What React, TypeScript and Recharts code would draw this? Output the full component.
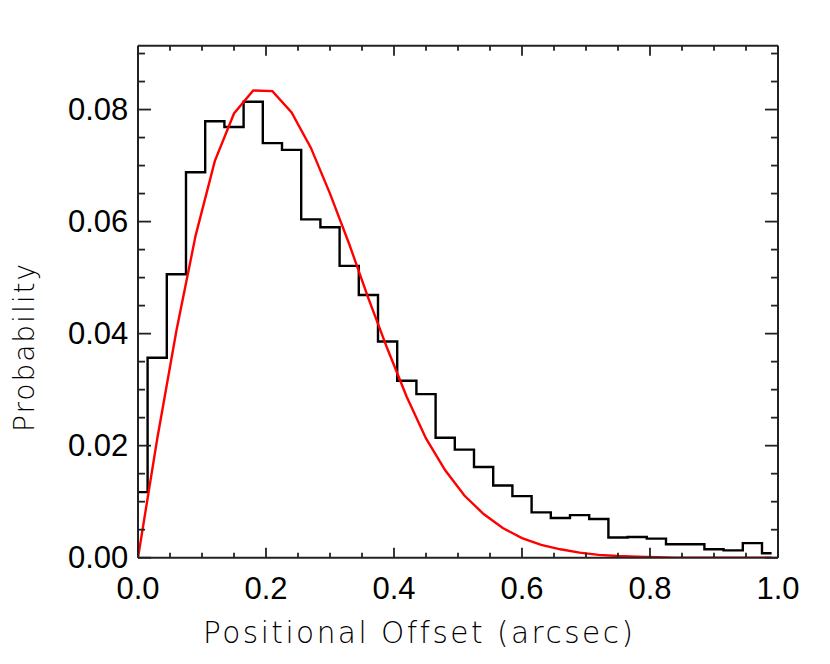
import React from "react";
import { ComposedChart, Line, XAxis, YAxis, Label } from "recharts";

// Bin centres (arcsec)
const offsets = [
  0.0, 0.03, 0.06, 0.09, 0.12, 0.15, 0.18, 0.21, 0.24, 0.27, 0.3, 0.33,
  0.36, 0.39, 0.42, 0.45, 0.48, 0.51, 0.54, 0.57, 0.6, 0.63, 0.66, 0.69,
  0.72, 0.75, 0.78, 0.81, 0.84, 0.87, 0.9, 0.93, 0.96, 0.99,
];

// Observed histogram (black)
const histProb = [
  0.0117, 0.0357, 0.0506, 0.0688, 0.0779, 0.0769, 0.0814, 0.0740, 0.0728,
  0.0604, 0.0590, 0.0521, 0.0469, 0.0386, 0.0316, 0.0292, 0.0214, 0.0193,
  0.0162, 0.0129, 0.0110, 0.0081, 0.0071, 0.0076, 0.0069, 0.0036, 0.0037,
  0.0034, 0.0024, 0.0024, 0.0015, 0.0013, 0.0026, 0.0008,
];

// Model curve (red)
const fitProb = [
  0.0, 0.0212, 0.0405, 0.0575, 0.0708, 0.0793, 0.0834, 0.0833, 0.0795,
  0.0732, 0.0650, 0.0560, 0.0463, 0.0372, 0.0287, 0.0213, 0.0156, 0.0111,
  0.0078, 0.0053, 0.0035, 0.0023, 0.0015, 0.0009, 0.0005, 0.0003, 0.0002,
  0.0001, 0.0, 0.0, 0.0, 0.0, 0.0, 0.0,
];

const xTicks = [
  0, 0.05, 0.1, 0.15, 0.2, 0.25, 0.3, 0.35, 0.4, 0.45, 0.5, 0.55, 0.6, 0.65,
  0.7, 0.75, 0.8, 0.85, 0.9, 0.95, 1.0,
];
const yTicks = [
  0, 0.005, 0.01, 0.015, 0.02, 0.025, 0.03, 0.035, 0.04, 0.045, 0.05, 0.055,
  0.06, 0.065, 0.07, 0.075, 0.08, 0.085, 0.09,
];

const xTitle = "Positional Offset (arcsec)";
const yTitle = "Probability";

const data = offsets.map((x, i) => ({ x, hist: histProb[i], fit: fitProb[i] }));

const AXIS = "#222";
const TICK_FONT = "'Liberation Sans', Arial, Helvetica, sans-serif";
const TITLE_FONT = "'DejaVu Sans', 'Liberation Sans', sans-serif";

const isMajorX = (v: number) => Math.round(v * 100) % 20 === 0;
const isMajorY = (v: number) => Math.round(v * 1000) % 20 === 0;

const BottomTick = (props: any) => {
  const { x, y, payload } = props;
  const v = payload.value as number;
  const major = isMajorX(v);
  return (
    <g>
      <line x1={x} x2={x} y1={y} y2={y - (major ? 10 : 5)} stroke={AXIS} strokeWidth={1.8} />
      {major && (
        <text x={x} y={y + 41.6} textAnchor="middle" fontFamily={TICK_FONT} fontSize={31} fill="#000">
          {v.toFixed(1)}
        </text>
      )}
    </g>
  );
};

const TopTick = (props: any) => {
  const { x, y, payload } = props;
  const major = isMajorX(payload.value);
  return <line x1={x} x2={x} y1={y} y2={y + (major ? 10 : 5)} stroke={AXIS} strokeWidth={1.8} />;
};

const LeftTick = (props: any) => {
  const { x, y, payload } = props;
  const v = payload.value as number;
  const major = isMajorY(v);
  return (
    <g>
      <line x1={x} x2={x + (major ? 13 : 7)} y1={y} y2={y} stroke={AXIS} strokeWidth={1.8} />
      {major && (
        <text x={x - 9.7} y={y + 10.5} textAnchor="end" fontFamily={TICK_FONT} fontSize={31} fill="#000">
          {v.toFixed(2)}
        </text>
      )}
    </g>
  );
};

const RightTick = (props: any) => {
  const { x, y, payload } = props;
  const major = isMajorY(payload.value);
  return <line x1={x} x2={x - (major ? 13 : 7)} y1={y} y2={y} stroke={AXIS} strokeWidth={1.8} />;
};

export default function App() {
  return (
    <ComposedChart
      width={814}
      height={648}
      data={data}
      margin={{ top: 36.7, right: 43, bottom: 38.3, left: 0 }}
    >
      <XAxis
        xAxisId="bottom"
        dataKey="x"
        type="number"
        domain={[0, 1]}
        allowDataOverflow
        ticks={xTicks}
        interval={0}
        tickSize={0}
        tickMargin={0}
        tickLine={false}
        height={60}
        axisLine={{ stroke: AXIS, strokeWidth: 2 }}
        tick={<BottomTick />}
      >
        <Label
          content={() => (
            <text
              x={195}
              y={635}
              fontFamily={TITLE_FONT}
              fontWeight={300}
              fontSize={29.5}
              letterSpacing={2.5}
              fill="#000"
            >
              {xTitle}
            </text>
          )}
        />
      </XAxis>
      <XAxis
        xAxisId="top"
        orientation="top"
        dataKey="x"
        type="number"
        domain={[0, 1]}
        allowDataOverflow
        ticks={xTicks}
        interval={0}
        tickSize={0}
        tickMargin={0}
        tickLine={false}
        height={1}
        axisLine={{ stroke: AXIS, strokeWidth: 2 }}
        tick={<TopTick />}
      />
      <YAxis
        yAxisId="left"
        type="number"
        domain={[0, 0.0914]}
        allowDataOverflow
        ticks={yTicks}
        interval={0}
        tickSize={0}
        tickMargin={0}
        tickLine={false}
        width={130}
        axisLine={{ stroke: AXIS, strokeWidth: 2 }}
        tick={<LeftTick />}
      >
        <Label
          content={() => (
            <text
              x={25.5}
              y={424}
              transform="rotate(-90 25.5 424)"
              fontFamily={TITLE_FONT}
              fontWeight={300}
              fontSize={28}
              letterSpacing={2}
              fill="#000"
            >
              {yTitle}
            </text>
          )}
        />
      </YAxis>
      <YAxis
        yAxisId="right"
        orientation="right"
        type="number"
        domain={[0, 0.0914]}
        allowDataOverflow
        ticks={yTicks}
        interval={0}
        tickSize={0}
        tickMargin={0}
        tickLine={false}
        width={1}
        axisLine={{ stroke: AXIS, strokeWidth: 2 }}
        tick={<RightTick />}
      />
      <Line
        xAxisId="bottom"
        yAxisId="left"
        dataKey="hist"
        type="step"
        stroke="#000"
        strokeWidth={2.4}
        dot={false}
        activeDot={false}
        isAnimationActive={false}
      />
      <Line
        xAxisId="bottom"
        yAxisId="left"
        dataKey="fit"
        type="linear"
        stroke="#ff0000"
        strokeWidth={2.4}
        dot={false}
        activeDot={false}
        isAnimationActive={false}
      />
    </ComposedChart>
  );
}
